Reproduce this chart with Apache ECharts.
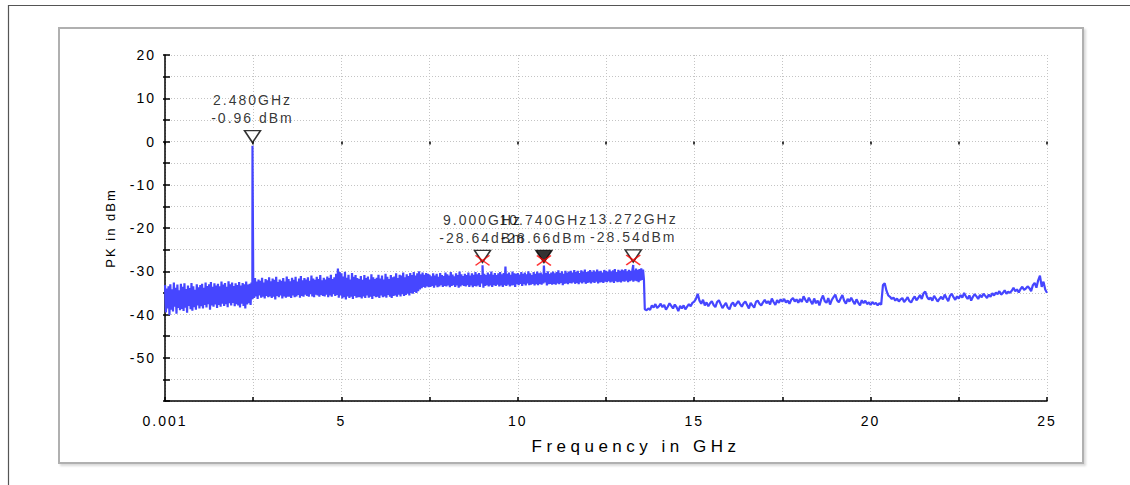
<!DOCTYPE html>
<html>
<head>
<meta charset="utf-8">
<script src="https://cdn.jsdelivr.net/npm/echarts@6/dist/echarts.min.js"></script>
<style>
  html, body { margin: 0; padding: 0; background: #fff; }
  #main { width: 1130px; height: 485px; }
  #main text { letter-spacing: 2px; }
</style>
</head>
<body>
<div id="main"></div>
<script>
// ---- Data ----
// Sweep segments: start frequency (GHz), step (GHz), measured levels (dBm)
const sweepStarts = [0.001, 7.5, 13.6];
const sweepSteps = [0.025, 0.025, 0.05];

const levelsA = [
  -33.2,-39.5,-34.0,-38.6,-33.5,-40.1,-33.0,-38.9,-34.2,-39.3,-32.6,-38.2,-33.8,-39.8,-33.1,-38.5,-34.4,-39.0,-32.9,-38.7,
  -33.6,-39.2,-32.8,-38.4,-34.1,-39.6,-33.3,-38.0,-33.9,-38.8,-32.7,-39.1,-33.5,-38.3,-34.3,-38.9,-33.0,-37.9,-33.7,-38.6,
  -33.2,-38.1,-32.9,-38.6,-33.8,-37.8,-32.6,-38.4,-33.4,-37.6,-33.0,-38.9,-32.5,-37.9,-33.6,-38.2,-32.8,-37.7,-33.3,-38.5,
  -32.9,-37.8,-33.5,-38.2,-32.4,-37.5,-33.1,-38.0,-32.7,-37.6,-33.6,-38.3,-32.3,-37.4,-33.0,-37.9,-32.6,-37.3,-33.4,-38.1,
  -32.8,-37.6,-33.2,-37.9,-32.5,-38.4,-33.3,-37.5,-32.7,-38.0,-33.0,-38.6,-32.4,-37.7,-33.1,-37.4,-32.9,-37.8,-32.6,-36.5,
  -32.0,-36.2,-31.6,-35.8,-32.4,-36.4,-31.9,-35.6,-32.2,-36.1,-31.5,-35.9,-32.6,-36.3,-31.8,-35.7,-32.1,-36.0,-31.4,-35.8,
  -32.3,-36.2,-31.7,-35.9,-32.0,-36.5,-31.3,-35.7,-32.5,-36.0,-31.9,-35.6,-32.2,-36.3,-31.6,-35.8,-32.4,-36.1,-31.2,-35.9,
  -31.8,-35.9,-32.3,-36.2,-31.5,-35.6,-32.0,-36.0,-31.3,-35.8,-32.4,-35.5,-31.7,-36.1,-31.1,-35.7,-32.1,-35.9,-31.6,-35.4,
  -31.9,-35.7,-31.4,-35.9,-32.2,-35.3,-31.0,-35.8,-31.7,-36.0,-32.0,-35.4,-31.3,-35.6,-31.8,-35.9,-30.9,-35.5,-32.1,-35.7,
  -31.5,-35.8,-31.9,-35.4,-31.2,-36.0,-31.6,-35.6,-30.8,-35.9,-31.8,-35.3,-31.4,-35.7,-30.6,-35.5,-29.4,-36.1,-30.2,-35.6,
  -30.5,-36.3,-31.2,-36.0,-30.1,-36.5,-31.5,-35.8,-30.8,-36.2,-31.9,-35.9,-30.4,-36.4,-31.3,-35.7,-30.9,-36.1,-31.6,-36.0,
  -31.8,-36.0,-31.1,-36.3,-32.0,-35.8,-30.9,-36.2,-31.6,-35.6,-31.2,-36.1,-31.9,-35.9,-30.7,-36.4,-31.4,-35.7,-31.8,-36.0,
  -31.5,-35.9,-30.8,-36.2,-31.7,-35.6,-31.0,-36.0,-31.9,-35.8,-30.6,-36.1,-31.3,-35.5,-31.8,-35.9,-30.9,-36.2,-31.4,-35.7,
  -31.2,-35.6,-30.5,-35.9,-31.6,-35.4,-30.8,-35.8,-31.0,-35.3,-30.3,-35.7,-31.4,-35.5,-30.7,-35.2,-31.1,-35.6,-30.4,-35.0,
  -30.9,-35.2,-30.2,-34.8,-31.0,-35.0,-30.5,-34.6,-30.0,-34.2,-30.7,-33.9,-30.3,-33.6,-30.8,-33.8,-30.4,-33.5,-30.6,-33.7
];

const levelsB = [
  -30.8,-33.6,-31.2,-33.4,-30.5,-33.8,-31.0,-33.3,-30.6,-33.7,-31.3,-33.5,-30.4,-33.2,-30.9,-33.6,-31.1,-33.4,-30.3,-33.5,
  -30.7,-33.3,-31.0,-33.7,-30.2,-33.4,-30.8,-33.2,-31.2,-33.6,-30.5,-33.3,-30.9,-33.8,-30.1,-33.5,-30.7,-33.2,-31.1,-33.4,
  -30.6,-33.5,-30.9,-33.2,-30.3,-33.6,-31.0,-33.3,-30.5,-33.7,-30.8,-33.4,-30.2,-33.5,-30.7,-33.3,-30.4,-33.6,-30.9,-32.8,
  -31.0,-33.8,-30.6,-33.4,-30.9,-33.2,-30.3,-33.5,-30.7,-33.3,-30.1,-33.6,-30.8,-33.2,-30.4,-33.4,-30.9,-33.1,-30.5,-33.5,
  -30.2,-33.3,-30.7,-33.6,-30.4,-33.2,-28.9,-33.4,-30.6,-33.1,-30.3,-33.5,-30.8,-33.3,-30.1,-33.2,-30.5,-33.6,-30.6,-33.0,
  -30.4,-33.2,-30.8,-32.9,-30.2,-33.4,-30.6,-33.0,-30.3,-33.3,-30.7,-32.8,-30.0,-33.2,-30.5,-33.1,-30.9,-32.9,-30.2,-33.3,
  -30.6,-33.0,-30.1,-33.2,-30.5,-32.9,-30.3,-33.1,-30.7,-32.8,-30.2,-32.6,-30.4,-33.3,-30.0,-33.0,-30.6,-32.9,-30.3,-33.1,
  -30.1,-32.9,-30.5,-33.1,-30.2,-32.8,-29.8,-33.0,-30.4,-32.7,-30.0,-33.2,-30.6,-32.9,-29.9,-32.8,-30.3,-33.0,-30.1,-32.7,
  -29.9,-32.8,-30.3,-32.6,-29.7,-32.9,-30.2,-32.7,-29.9,-33.0,-30.4,-32.6,-29.8,-32.8,-30.1,-32.5,-29.6,-32.9,-30.2,-32.7,
  -30.0,-32.6,-29.7,-32.8,-30.2,-32.5,-29.8,-32.7,-30.1,-32.4,-29.6,-32.8,-30.0,-32.6,-29.9,-32.5,-30.3,-32.7,-29.7,-32.4,
  -29.9,-32.5,-30.1,-32.3,-29.6,-32.6,-30.0,-32.4,-29.8,-32.7,-29.5,-32.3,-30.2,-32.5,-29.7,-32.4,-29.9,-32.6,-29.6,-32.3,
  -29.8,-32.4,-29.5,-32.2,-30.0,-32.5,-29.7,-32.3,-29.9,-32.1,-29.6,-32.4,-29.8,-32.2,-29.4,-32.3,-29.7,-32.5,-29.5,-32.2,
  -29.3,-32.0,-29.6,-31.9
];

const levelsC = [
  -38.8,-39.0,-38.6,-38.9,-37.9,-38.4,-37.6,-38.5,
  -38.1,-37.5,-38.3,-37.8,-38.9,-38.2,-37.4,-38.0,-38.6,-37.7,
  -38.3,-39.2,-38.0,-38.6,-37.9,-38.8,-38.2,-37.6,-38.1,-37.3,
  -37.0,-36.4,-35.2,-36.8,-37.5,-36.6,-37.9,-37.2,-38.1,-37.4,
  -36.9,-37.8,-38.3,-37.1,-36.7,-37.6,-38.5,-37.9,-37.3,-38.4,
  -38.8,-37.7,-37.2,-38.1,-37.5,-36.9,-37.6,-38.2,-37.4,-37.0,
  -37.8,-38.6,-37.3,-37.9,-38.4,-37.1,-36.8,-37.5,-37.9,-37.2,
  -36.6,-37.4,-36.9,-37.7,-36.3,-37.1,-37.8,-36.7,-37.3,-36.5,
  -37.0,-36.4,-37.2,-36.8,-37.5,-36.6,-36.2,-37.0,-36.5,-37.3,
  -36.4,-37.1,-35.8,-36.6,-37.2,-36.1,-36.9,-37.6,-36.3,-37.4,
  -36.8,-37.9,-36.5,-35.6,-36.9,-37.3,-36.2,-37.7,-36.6,-36.0,
  -35.4,-36.7,-37.2,-36.3,-35.5,-36.8,-37.5,-36.4,-37.0,-36.1,
  -36.9,-37.6,-36.5,-37.3,-37.9,-36.7,-37.4,-36.8,-37.6,-37.2,
  -37.8,-37.1,-37.6,-37.3,-37.9,-37.4,-37.7,-33.2,-32.8,-34.5,
  -35.6,-35.9,-36.4,-36.1,-36.8,-36.3,-37.0,-36.5,-36.2,-37.1,
  -36.6,-36.0,-36.9,-37.2,-36.4,-35.8,-36.7,-36.2,-35.5,-36.4,
  -35.1,-34.7,-35.9,-36.5,-36.1,-36.8,-35.7,-36.3,-37.0,-36.4,
  -35.9,-36.5,-35.4,-36.2,-36.9,-35.7,-35.2,-36.0,-36.6,-35.8,
  -36.3,-35.5,-36.1,-35.0,-35.8,-36.4,-35.6,-36.8,-35.9,-35.3,
  -35.8,-36.4,-35.5,-36.0,-35.2,-35.7,-36.2,-35.4,-35.9,-35.1,
  -35.6,-34.9,-35.3,-34.6,-35.4,-35.0,-34.4,-35.2,-34.7,-35.0,
  -34.5,-33.8,-34.6,-34.2,-34.9,-34.1,-33.6,-34.3,-34.0,-33.5,
  -33.9,-34.6,-33.2,-32.7,-33.8,-32.1,-31.0,-33.6,-32.4,-34.2,-35.0
];

// Markers
const markerFreqs = [2.48, 9.0, 10.74, 13.272];
const markerLevels = [-0.96, -28.64, -28.66, -28.54];
const markerFreqLabels = ['2.480GHz', '9.000GHz', '10.740GHz', '13.272GHz'];
const markerLevelLabels = ['-0.96 dBm', '-28.64dBm', '-28.66dBm', '-28.54dBm'];
const markerActive = [false, false, true, false];
const markerCross = [false, true, true, true];

// Axis ticks
const xTickValues = [0, 2.5, 5, 7.5, 10, 12.5, 15, 17.5, 20, 22.5, 25];
const xTickLabels = ['0.001', '', '5', '', '10', '', '15', '', '20', '', '25'];
const yTickValues = [-60, -55, -50, -45, -40, -35, -30, -25, -20, -15, -10, -5, 0, 5, 10, 15, 20];
const yTickLabels = ['', '', '-50', '', '-40', '', '-30', '', '-20', '', '-10', '', '0', '', '10', '', '20'];

const xAxisTitle = 'Frequency in GHz';
const yAxisTitle = 'PK in dBm';

// ---- Build trace ----
const segs = [levelsA, levelsB, levelsC];
const trace = [];
segs.forEach((lv, s) => {
  lv.forEach((v, i) => trace.push([+(sweepStarts[s] + i * sweepSteps[s]).toFixed(4), v]));
});
markerFreqs.forEach((f, i) => trace.push([f, markerLevels[i]]));
trace.sort((a, b) => a[0] - b[0]);

function lookup(values, labels, v) {
  for (let i = 0; i < values.length; i++) if (Math.abs(values[i] - v) < 1e-6) return labels[i];
  return '';
}

const FONT = '"Liberation Sans", Arial, sans-serif';
const chart = echarts.init(document.getElementById('main'), null, { renderer: 'svg' });

const gridDots = { show: true, lineStyle: { color: '#c4c4c4', type: [1, 2], width: 1 } };

const option = {
  animation: false,
  backgroundColor: '#fff',
  textStyle: { fontFamily: FONT },
  graphic: [
    { type: 'rect', left: 6, top: 3, shape: { width: 1300, height: 700 }, style: { fill: 'none', stroke: '#555', lineWidth: 1.2 }, silent: true, z: -10 },
    { type: 'rect', left: 58, top: 27, shape: { width: 1024, height: 435 }, style: { fill: '#fff', stroke: '#b0b0b0', lineWidth: 2, shadowColor: 'rgba(0,0,0,0.15)', shadowOffsetX: 2, shadowOffsetY: 2, shadowBlur: 2 }, silent: true, z: -9 }
  ],
  grid: { left: 165, right: 83, top: 55, bottom: 84, containLabel: false },
  xAxis: [
    {
      type: 'value', min: 0, max: 25, interval: 2.5, position: 'bottom',
      axisLine: { show: true, onZero: false, lineStyle: { color: '#000', width: 1.5 } },
      axisTick: { show: true, inside: true, length: 4, lineStyle: { color: '#000', width: 1.5 } },
      axisLabel: { show: true, margin: 13, color: '#000', fontSize: 14, fontFamily: FONT,
        formatter: v => lookup(xTickValues, xTickLabels, v) },
      splitLine: gridDots,
      name: xAxisTitle, nameLocation: 'middle', nameGap: 37,
      nameTextStyle: { color: '#000', fontSize: 17, fontFamily: FONT, padding: [0, 0, 0, 60] }
    },
    {
      type: 'value', min: 0, max: 25, interval: 2.5, position: 'bottom',
      axisLine: { show: false },
      axisTick: { show: true, inside: false, length: 3, lineStyle: { color: '#000', width: 1.5 } },
      axisLabel: { show: false }, splitLine: { show: false }
    }
  ],
  yAxis: [
    {
      type: 'value', min: -60, max: 20, interval: 5, position: 'left',
      axisLine: { show: true, onZero: false, lineStyle: { color: '#000', width: 1.5 } },
      axisTick: { show: true, inside: true, length: 5, lineStyle: { color: '#000', width: 1.5 } },
      axisLabel: { show: true, margin: 9, color: '#000', fontSize: 14, fontFamily: FONT,
        formatter: v => lookup(yTickValues, yTickLabels, v) },
      splitLine: gridDots,
      name: yAxisTitle, nameLocation: 'middle', nameGap: 48,
      nameTextStyle: { color: '#000', fontSize: 13, fontFamily: FONT }
    },
    {
      type: 'value', min: -60, max: 20, interval: 5, position: 'left',
      axisLine: { show: false },
      axisTick: { show: true, inside: false, length: 2, lineStyle: { color: '#000', width: 1.5 } },
      axisLabel: { show: false }, splitLine: { show: false }
    }
  ],
  series: [
    {
      name: 'trace', type: 'line', data: trace, showSymbol: false, symbol: 'none',
      lineStyle: { color: '#4646ff', width: 2.2 }, z: 3, silent: true
    },
    {
      name: 'markers', type: 'scatter', z: 5,
      data: markerFreqs.map((f, i) => ({
        value: [f, markerLevels[i]],
        itemStyle: { color: markerActive[i] ? '#000' : '#fff', borderColor: '#000', borderWidth: 1.5 }
      })),
      symbol: 'triangle', symbolRotate: 180, symbolSize: [16, 12], symbolOffset: [0, -9],
      label: {
        show: true, position: 'top', distance: 3, color: '#000', fontSize: 14, fontFamily: FONT, lineHeight: 18, align: 'center',
        formatter: p => markerFreqLabels[p.dataIndex] + '\n' + markerLevelLabels[p.dataIndex]
      }
    },
    {
      name: 'cross', type: 'scatter', z: 6,
      data: markerFreqs.map((f, i) => markerCross[i] ? [f, markerLevels[i]] : null).filter(d => d),
      symbol: 'path://M0,0L10,10M10,0L0,10', symbolSize: [14, 10], symbolOffset: [0, -5],
      itemStyle: { color: 'rgba(0,0,0,0)', borderColor: '#ff0000', borderWidth: 1.5 }
    }
  ]
};
chart.setOption(option);

function spaceText() {
  document.querySelectorAll('#main text').forEach(t => {
    const fs = parseFloat(getComputedStyle(t).fontSize);
    t.style.letterSpacing = fs >= 15 ? '4.5px' : '2px';
  });
}
spaceText();
chart.on('finished', spaceText);
</script>
</body>
</html>
